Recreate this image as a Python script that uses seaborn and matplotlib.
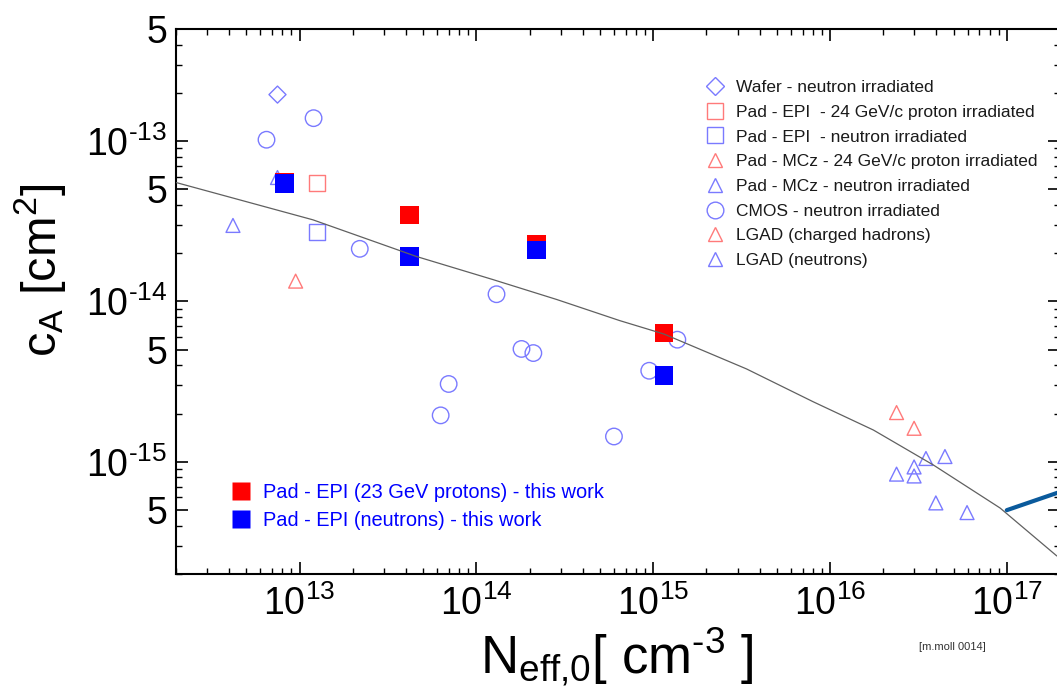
import numpy as np
import pandas as pd
import matplotlib
matplotlib.use("Agg")
import matplotlib.pyplot as plt
from matplotlib.lines import Line2D
from matplotlib.ticker import FixedLocator, FixedFormatter, NullFormatter
import seaborn as sns

# Acceptor removal coefficient c_A versus initial effective doping N_eff,0

# Wafer - neutron irradiated
wafer_n_x = [7.5e12]
wafer_n_y = [1.95e-13]

# Pad - EPI - 24 GeV/c proton irradiated
epi_p_x = [1.25e13]
epi_p_y = [5.5e-14]

# Pad - EPI - neutron irradiated
epi_n_x = [1.25e13]
epi_n_y = [2.73e-14]

# Pad - MCz - 24 GeV/c proton irradiated
mcz_p_x = [9.5e12]
mcz_p_y = [1.34e-14]

# Pad - MCz - neutron irradiated
mcz_n_x = [4.2e12, 7.5e12]
mcz_n_y = [2.98e-14, 5.93e-14]

# CMOS - neutron irradiated
cmos_n_x = [6.5e12, 1.2e13, 2.19e13, 1.30e14, 1.80e14, 2.10e14,
            6.97e13, 6.28e13, 6.0e14, 9.5e14, 1.37e15]
cmos_n_y = [1.02e-13, 1.39e-13, 2.13e-14, 1.11e-14, 5.06e-15, 4.77e-15,
            3.06e-15, 1.95e-15, 1.44e-15, 3.70e-15, 5.78e-15]

# LGAD (charged hadrons)
lgad_h_x = [2.38e16, 2.99e16]
lgad_h_y = [2.03e-15, 1.62e-15]

# LGAD (neutrons)
lgad_n_x = [2.38e16, 2.99e16, 2.99e16, 3.49e16, 4.47e16, 3.97e16, 5.96e16]
lgad_n_y = [8.39e-16, 9.3e-16, 8.17e-16, 1.05e-15, 1.08e-15, 5.55e-16, 4.83e-16]

# Pad - EPI - this work
work_p_x = [8.2e12, 4.2e13, 2.18e14, 1.15e15]
work_p_y = [5.53e-14, 3.47e-14, 2.28e-14, 6.36e-15]
work_n_x = [8.2e12, 4.2e13, 2.18e14, 1.15e15]
work_n_y = [5.43e-14, 1.90e-14, 2.10e-14, 3.46e-15]

# Parametrisation curve
fit_x = [2.0e12, 1.19e13, 4.57e13, 1.24e14, 2.84e14, 6.47e14, 1.15e15,
         3.37e15, 8.04e15, 1.76e16, 3.84e16, 9.16e16, 1.92e17]
fit_y = [5.52e-14, 3.23e-14, 1.91e-14, 1.37e-14, 1.03e-14, 7.60e-15, 6.27e-15,
         3.80e-15, 2.37e-15, 1.58e-15, 9.57e-16, 5.16e-16, 2.59e-16]

# Heavily doped segment
seg_x = [1.0e17, 2.0e17]
seg_y = [5.0e-16, 6.5e-16]

legend_labels = [
    "Wafer - neutron irradiated",
    "Pad - EPI  - 24 GeV/c proton irradiated",
    "Pad - EPI  - neutron irradiated",
    "Pad - MCz - 24 GeV/c proton irradiated",
    "Pad - MCz - neutron irradiated",
    "CMOS - neutron irradiated",
    "LGAD (charged hadrons)",
    "LGAD (neutrons)",
]
work_labels = [
    "Pad - EPI (23 GeV protons) - this work",
    "Pad - EPI (neutrons) - this work",
]

x_major = [1e13, 1e14, 1e15, 1e16, 1e17]
x_major_labels = [r"$10^{13}$", r"$10^{14}$", r"$10^{15}$", r"$10^{16}$", r"$10^{17}$"]
y_major = [5e-16, 1e-15, 5e-15, 1e-14, 5e-14, 1e-13, 5e-13]
y_major_labels = ["5", r"$10^{\text{-15}}$", "5", r"$10^{\text{-14}}$", "5",
                  r"$10^{\text{-13}}$", "5"]

sns.set_style("white")
plt.rcParams["font.family"] = ["Liberation Sans", "DejaVu Sans"]
plt.rcParams["mathtext.fontset"] = "custom"
plt.rcParams["mathtext.rm"] = "Liberation Sans"
plt.rcParams["mathtext.it"] = "Liberation Sans:italic"
plt.rcParams["mathtext.bf"] = "Liberation Sans:bold"
plt.rcParams["mathtext.default"] = "regular"
plt.rcParams["text.color"] = "black"
plt.rcParams["xtick.labelcolor"] = "black"
plt.rcParams["ytick.labelcolor"] = "black"

LB = "#7a7aff"
LR = "#ff7a7a"
RED = "#ff0000"
BLUE = "#0000ff"

W, H = 1057, 689
fig = plt.figure(figsize=(W / 100, H / 100), dpi=100)
fig.patch.set_facecolor("white")
ax = fig.add_axes([176 / W, 1 - 574 / H, (1060 - 176) / W, 545 / H])
ax.set_xscale("log")
ax.set_yscale("log")


def open_points(xs, ys, marker, s, color):
    sns.scatterplot(x=xs, y=ys, marker=marker, s=s, facecolors="none",
                    edgecolor=color, linewidth=1.0, ax=ax, zorder=2, legend=False)


def filled_points(xs, ys, color):
    sns.scatterplot(x=xs, y=ys, marker="s", s=180, color=color,
                    edgecolor="none", linewidth=0, ax=ax, zorder=3, legend=False)


open_points(wafer_n_x, wafer_n_y, "D", 75, LB)
open_points(epi_p_x, epi_p_y, "s", 132, LR)
open_points(epi_n_x, epi_n_y, "s", 132, LB)
open_points(mcz_p_x, mcz_p_y, "^", 100, LR)
open_points(mcz_n_x, mcz_n_y, "^", 100, LB)
open_points(cmos_n_x, cmos_n_y, "o", 141, LB)
open_points(lgad_h_x, lgad_h_y, "^", 100, LR)
open_points(lgad_n_x, lgad_n_y, "^", 100, LB)
filled_points(work_p_x, work_p_y, RED)
filled_points(work_n_x, work_n_y, BLUE)

sns.lineplot(x=fit_x, y=fit_y, color="#606060", linewidth=0.9, ax=ax,
             zorder=4, sort=False, estimator=None, legend=False)
sns.lineplot(x=seg_x, y=seg_y, color="#0a5a9c", linewidth=3.0, ax=ax,
             zorder=4, sort=False, estimator=None, legend=False)

ax.set_xlim(2e12, 2e17)
ax.set_ylim(2e-16, 5e-13)

x_minor = [k * 10.0 ** e for e in range(12, 18) for k in range(2, 10)]
x_minor = [v for v in x_minor if 2e12 <= v <= 2e17 and v not in x_major]
y_minor = [k * 10.0 ** e for e in range(-16, -12) for k in (2, 3, 4, 6, 7, 8, 9)]
y_minor = [v for v in y_minor if 2e-16 <= v <= 5e-13]

ax.xaxis.set_major_locator(FixedLocator(x_major))
ax.xaxis.set_major_formatter(FixedFormatter(x_major_labels))
ax.xaxis.set_minor_locator(FixedLocator(x_minor))
ax.xaxis.set_minor_formatter(NullFormatter())
ax.yaxis.set_major_locator(FixedLocator(y_major))
ax.yaxis.set_major_formatter(FixedFormatter(y_major_labels))
ax.yaxis.set_minor_locator(FixedLocator(y_minor))
ax.yaxis.set_minor_formatter(NullFormatter())

ax.tick_params(which="both", direction="in", top=True, right=True,
               bottom=True, left=True, color="black", labelcolor="black")
ax.tick_params(which="major", length=8.4, width=1.2, labelsize=27)
ax.tick_params(which="minor", length=4.3, width=1.0)
ax.tick_params(axis="x", which="major", pad=8)
ax.tick_params(axis="y", which="major", pad=6.5)
for sp in ax.spines.values():
    sp.set_linewidth(1.5)
    sp.set_color("black")
ax.grid(False)

fig.text(40 / W, 1 - 270 / H, r"$c_A\ [cm^2]$", rotation=90,
         ha="center", va="center", fontsize=35, color="black")
fig.text(617 / W, 1 - 657 / H, r"$N_{\text{eff,0}}[\ cm^{\text{-3}}\ ]$",
         ha="center", va="center", fontsize=38, color="black")
fig.text(952 / W, 1 - 647 / H, "[m.moll 0014]", ha="center", va="center",
         fontsize=8, color="#333333")

handles = [
    Line2D([], [], ls="none", marker="D", ms=8.7, mfc="none", mec=LB, mew=1.0),
    Line2D([], [], ls="none", marker="s", ms=11.3, mfc="none", mec=LR, mew=1.0),
    Line2D([], [], ls="none", marker="s", ms=11.3, mfc="none", mec=LB, mew=1.0),
    Line2D([], [], ls="none", marker="^", ms=9.5, mfc="none", mec=LR, mew=1.0),
    Line2D([], [], ls="none", marker="^", ms=9.5, mfc="none", mec=LB, mew=1.0),
    Line2D([], [], ls="none", marker="o", ms=12.0, mfc="none", mec=LB, mew=1.0),
    Line2D([], [], ls="none", marker="^", ms=9.5, mfc="none", mec=LR, mew=1.0),
    Line2D([], [], ls="none", marker="^", ms=9.5, mfc="none", mec=LB, mew=1.0),
]
leg1 = ax.legend(handles, legend_labels, loc="upper left",
                 bbox_to_anchor=(706 / W, 1 - 80 / H), bbox_transform=fig.transFigure,
                 frameon=False, fontsize=12.5, handlelength=1.0, handletextpad=0.7,
                 labelspacing=0.55, borderpad=0, borderaxespad=0, labelcolor="#1a1a1a")
ax.add_artist(leg1)

work_handles = [
    Line2D([], [], ls="none", marker="s", ms=13.4, mfc=RED, mec="none"),
    Line2D([], [], ls="none", marker="s", ms=13.4, mfc=BLUE, mec="none"),
]
leg2 = ax.legend(work_handles, work_labels, loc="upper left",
                 bbox_to_anchor=(231 / W, 1 - 483 / H), bbox_transform=fig.transFigure,
                 frameon=False, fontsize=14.4, handlelength=1.0, handletextpad=0.62,
                 labelspacing=0.45, borderpad=0, borderaxespad=0, labelcolor=BLUE)

fig.savefig("out.png", dpi=100, facecolor="white")
